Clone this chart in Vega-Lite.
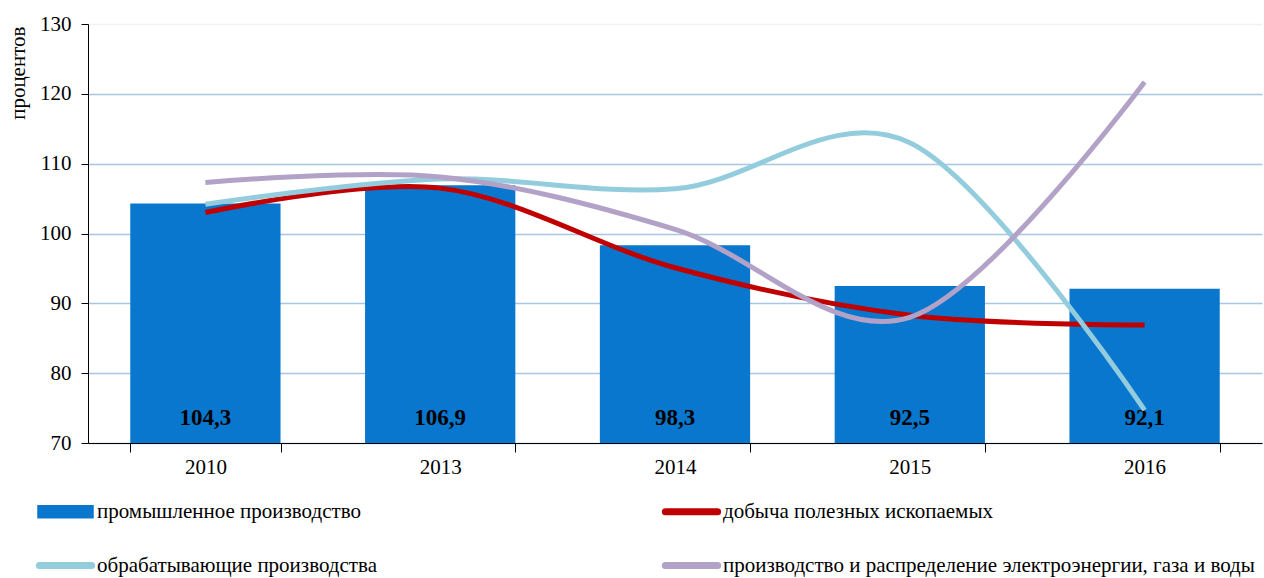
{
  "$schema": "https://vega.github.io/schema/vega-lite/v6.json",
  "autosize": {"type": "none"},
  "width": 1174,
  "height": 419,
  "padding": {"left": 88, "top": 24, "right": 2, "bottom": 135},
  "background": "white",
  "config": {
    "locale": {"number": {"decimal": ",", "thousands": " ", "grouping": [3], "currency": ["", ""]}},
    "font": "Liberation Serif",
    "legend": {"labelFont": "Liberation Serif", "labelFontSize": 21, "labelColor": "#000000"},
    "axis": {"labelFont": "Liberation Serif", "titleFont": "Liberation Serif"},
    "view": {"stroke": null}
  },
  "data": {
    "values": [
      {"year": "2010", "series": "промышленное производство", "value": 104.3},
      {"year": "2013", "series": "промышленное производство", "value": 106.9},
      {"year": "2014", "series": "промышленное производство", "value": 98.3},
      {"year": "2015", "series": "промышленное производство", "value": 92.5},
      {"year": "2016", "series": "промышленное производство", "value": 92.1},
      {"year": "2010", "series": "добыча полезных ископаемых", "value": 103.0},
      {"year": "2013", "series": "добыча полезных ископаемых", "value": 106.5},
      {"year": "2014", "series": "добыча полезных ископаемых", "value": 95.1},
      {"year": "2015", "series": "добыча полезных ископаемых", "value": 88.3},
      {"year": "2016", "series": "добыча полезных ископаемых", "value": 86.9},
      {"year": "2010", "series": "обрабатывающие производства", "value": 104.2},
      {"year": "2013", "series": "обрабатывающие производства", "value": 107.8},
      {"year": "2014", "series": "обрабатывающие производства", "value": 106.4},
      {"year": "2015", "series": "обрабатывающие производства", "value": 113.0},
      {"year": "2016", "series": "обрабатывающие производства", "value": 74.7},
      {"year": "2010", "series": "производство и распределение электроэнергии, газа и воды", "value": 107.3},
      {"year": "2013", "series": "производство и распределение электроэнергии, газа и воды", "value": 108.1},
      {"year": "2014", "series": "производство и распределение электроэнергии, газа и воды", "value": 100.6},
      {"year": "2015", "series": "производство и распределение электроэнергии, газа и воды", "value": 88.0},
      {"year": "2016", "series": "производство и распределение электроэнергии, газа и воды", "value": 121.7}
    ]
  },
  "encoding": {
    "x": {
      "field": "year", "type": "nominal",
      "scale": {"paddingInner": 0.36, "paddingOuter": 0.18},
      "axis": {
        "title": null, "labelAngle": 0, "tickBand": "extent",
        "domainColor": "#000000", "tickColor": "#000000", "tickSize": 9,
        "labelFontSize": 21, "labelColor": "#000000",
        "labelPadding": 4, "grid": false
      }
    }
  },
  "layer": [
    {
      "transform": [{"filter": "datum.series === 'промышленное производство'"}],
      "mark": {"type": "bar", "clip": true},
      "encoding": {
        "y": {
          "field": "value", "type": "quantitative",
          "scale": {"domain": [70, 130], "nice": false, "zero": false},
          "axis": {
            "title": "процентов", "titleFontSize": 21,
            "titleFontWeight": "normal", "titleColor": "#000000",
            "titleAnchor": "end", "titleX": -70, "titleY": 2, "titleBaseline": "middle",
            "values": [70, 80, 90, 100, 110, 120, 130],
            "labelFontSize": 21, "labelColor": "#000000",
            "labelPadding": 10, "tickSize": 7, "tickColor": "#000000", "domainColor": "#000000",
            "gridColor": {"condition": {"test": "datum.value === 130", "value": "#F2F2F2"}, "value": "#A9C5E3"},
            "gridWidth": 1.3
          }
        },
        "y2": {"datum": 70},
        "color": {
          "field": "series", "type": "nominal",
          "scale": {
            "domain": ["промышленное производство", "добыча полезных ископаемых", "обрабатывающие производства", "производство и распределение электроэнергии, газа и воды"],
            "range": ["#0877CD", "#C00000", "#93CDDD", "#B3A2C7"]
          },
          "legend": {
            "title": null, "orient": "none", "legendX": -51, "legendY": 459,
            "direction": "horizontal", "columns": 2, "columnPadding": 282, "rowPadding": 15,
            "padding": 0, "symbolSize": 3025, "symbolOffset": 0,
            "labelFontSize": 21, "labelColor": "#000000",
            "labelOffset": 3, "labelLimit": 700,
            "encode": {
              "symbols": {
                "update": {
                  "shape": {"signal": "datum.value === 'промышленное производство' ? 'M-1,-0.22H1V0.22H-1Z' : 'M-0.95,-0.1H0.95A0.1,0.1 0 0 1 0.95,0.1H-0.95A0.1,0.1 0 0 1 -0.95,-0.1Z'"},
                  "fill": {"scale": "color", "field": "value"},
                  "stroke": {"value": "transparent"},
                  "opacity": {"value": 1},
                  "fillOpacity": {"value": 1}
                }
              }
            }
          }
        }
      }
    },
    {
      "transform": [{"filter": "datum.series === 'промышленное производство'"}],
      "mark": {"type": "text", "fontSize": 23, "fontWeight": "bold", "color": "#000000", "baseline": "middle", "dy": -25},
      "encoding": {
        "y": {"datum": 70, "type": "quantitative"},
        "text": {"field": "value", "type": "quantitative", "format": ".1f"}
      }
    },
    {
      "transform": [{"filter": "datum.series !== 'промышленное производство'"}],
      "mark": {"type": "line", "interpolate": "cardinal", "strokeWidth": 5, "strokeCap": "butt"},
      "encoding": {
        "y": {"field": "value", "type": "quantitative"},
        "color": {"field": "series", "type": "nominal"},
        "order": {"field": "series"}
      }
    }
  ]
}
